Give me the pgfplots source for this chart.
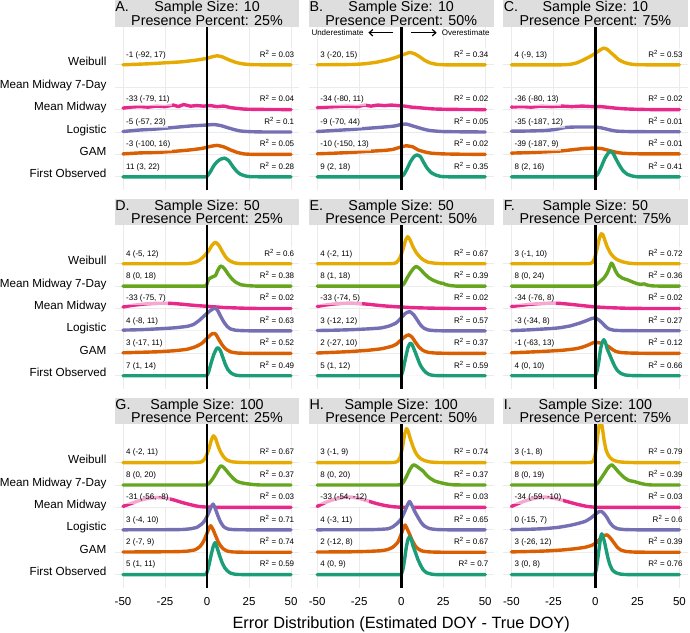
\documentclass[border=0pt]{standalone}
\usepackage{fontspec}
\setmainfont{Liberation Sans}
\usepackage{pgfplots}
\pgfplotsset{compat=1.18}
\usetikzlibrary{arrows.meta}

\definecolor{cFO}{HTML}{1B9E77}
\definecolor{cGAM}{HTML}{D95F02}
\definecolor{cLOG}{HTML}{7570B3}
\definecolor{cMM}{HTML}{E7298A}
\definecolor{cMMs}{HTML}{66A61E}
\definecolor{cWB}{HTML}{E6AB02}
\definecolor{gridc}{HTML}{EBEBEB}
\definecolor{stripc}{HTML}{DEDEDE}

% baselines of the ridges (in pt): FO 0, GAM 22.4, Logistic 44.8, MM 67.2, MM7 89.6, Weibull 112
\pgfplotsset{
  panel/.style={scale only axis, width=184.8pt, height=163.3pt,
    xmin=-55, xmax=55, ymin=-13, ymax=150.3, anchor=north west,
    xtick={-50,-25,0,25,50}, ytick={0,22.4,44.8,67.2,89.6,112},
    xticklabels={}, yticklabels={},
    grid=major, major grid style={draw=gridc, line width=0.9pt},
    axis line style={draw=none}, tick style={draw=none},
    /pgf/number format/assume math mode=true},
  leftcol/.style={
    yticklabels={First Observed,GAM,Logistic,Mean Midway,Mean Midway 7-Day,Weibull},
    yticklabel style={font=\fontsize{11.7}{13}\selectfont, anchor=base east,
      inner sep=0pt, xshift=-8pt, yshift=-1pt}},
  bottomrow/.style={
    xticklabels={-50,-25,0,25,50},
    xticklabel style={font=\fontsize{11.5}{13}\selectfont, anchor=base,
      inner sep=0pt, yshift=-17.5pt}},
  ridge/.style 2 args={draw=#1, fill=white, line width=3.4pt, mark=none,
    smooth, tension=0.3, line join=round, line cap=round,
    y filter/.expression={y+#2}},
}
\tikzset{
  lab/.style={font=\fontsize{8}{9.6}\selectfont, fill=white, fill opacity=0.6,
    text opacity=1, inner xsep=2pt, inner ysep=2.2pt},
  stript/.style={font=\fontsize{14.3}{15}\selectfont, inner sep=0pt},
}
\newcommand{\ann}[3]{%
  \node[lab, anchor=base west] at (axis cs:-49.4,#1) {#2};
  \node[lab, anchor=base east] at (axis cs:53.2,#1) {R\textsuperscript{2} = #3};}
\newcommand{\zeroline}{\draw[black, line width=2.6pt] (axis cs:0,-13) -- (axis cs:0,150.3);}
\newcommand{\strip}[4]{%
  \fill[stripc] (#1.north west) rectangle ([yshift=26.5pt]#1.north east);
  \node[stript, anchor=base west] at ([xshift=0.6pt,yshift=14.8pt]#1.north west) {#2};
  \node[stript, anchor=base] at ([yshift=14.8pt]#1.north) {Sample Size: #3};
  \node[stript, anchor=base] at ([yshift=1.5pt]#1.north) {Presence Percent: #4\%};}

\begin{document}
\begin{tikzpicture}
\useasboundingbox (0,0) rectangle (690pt,-632pt);

% ---------------- A ----------------
\begin{axis}[panel, leftcol, name=A, at={(114.6pt,-26.5pt)}]
\addplot[ridge={cWB}{112}] coordinates {(-50,0)(-35,1)(-25,2)(-15,3)(-5,5)(0,6.5)(3,8)(6,9)(9,8)(13,5)(17,2.5)(21,1)(26,0.2)(32,0)(50,0)};
\addplot[ridge={cMM}{67.2}] coordinates {(-50,1.5)(-45,2.5)(-40,3)(-35,2.5)(-30,3.5)(-25,3)(-20,4.5)(-17,3)(-14,5)(-10,3.5)(-6,4)(-2,3.5)(2,4)(6,3)(10,3.5)(14,2)(18,1.2)(22,0.5)(30,0.2)(50,0)};
\addplot[ridge={cLOG}{44.8}] coordinates {(-50,0.5)(-40,2)(-30,3)(-20,4.5)(-10,6)(0,7)(4,7.5)(8,6.5)(12,4.5)(16,2.5)(20,1)(26,0.3)(35,0)(50,0)};
\addplot[ridge={cGAM}{22.4}] coordinates {(-50,0.5)(-40,1.5)(-30,2)(-20,3)(-10,4.5)(-3,6)(2,8)(6,9)(10,7.5)(14,4.5)(18,2)(22,0.5)(28,0)(36,0)(50,0)};
\addplot[ridge={cFO}{0}] coordinates {(-50,0)(-8,0)(-3,0)(-1,0)(0,0.5)(2,5)(4,11)(6,15)(8,17.5)(10.5,18.7)(13,16)(15.5,10)(18,5)(20,2.5)(23,0.8)(26,0.1)(31,0)(38,0)(50,0)};
\ann{119.7}{-1 (-92, 17)}{0.03}
\ann{74.9}{-33 (-79, 11)}{0.04}
\ann{52.5}{-5 (-57, 23)}{0.1}
\ann{30.1}{-3 (-100, 16)}{0.05}
\ann{7.7}{11 (3, 22)}{0.28}
\zeroline
\end{axis}
\strip{A}{A.}{10}{25}

% ---------------- B ----------------
\begin{axis}[panel, name=B, at={(308.8pt,-26.5pt)}]
\addplot[ridge={cWB}{112}] coordinates {(-50,0)(-30,0.3)(-22,1)(-15,2.5)(-8,5)(-3,7.5)(1,10)(5,12.3)(8,11)(11,8)(14,4.5)(17,2)(21,0.5)(26,0)(33,0)(50,0)};
\addplot[ridge={cMM}{67.2}] coordinates {(-50,2)(-44,2.5)(-38,3)(-32,3.5)(-26,3)(-22,4.5)(-18,3.5)(-14,4.5)(-10,4)(-6,4.5)(-2,4)(2,3.5)(6,2.5)(10,2)(15,1.2)(20,0.6)(30,0.2)(50,0)};
\addplot[ridge={cLOG}{44.8}] coordinates {(-50,0.5)(-40,1.5)(-30,2.5)(-20,3.7)(-10,5)(-4,6)(0,7.5)(3,8)(6,6.5)(9,5)(13,3)(17,1.5)(24,0.5)(35,0.2)(50,0)};
\addplot[ridge={cGAM}{22.4}] coordinates {(-50,0.6)(-40,1.2)(-30,2)(-20,3)(-10,4)(-5,5)(-1,7)(3,8.6)(7,7.5)(10,4.5)(14,2.5)(18,1.2)(25,0.5)(35,0.2)(50,0)};
\addplot[ridge={cFO}{0}] coordinates {(-50,0)(-8,0)(-3,0)(-1,0)(0,0.2)(1.5,2)(3.5,8)(5.5,15)(7.5,20)(9.5,22)(11.5,20)(13.5,14)(15.5,8.5)(18,4)(21,1.5)(24,0.3)(28,0)(36,0)(50,0)};
\ann{119.7}{3 (-20, 15)}{0.34}
\ann{74.9}{-34 (-80, 11)}{0.02}
\ann{52.5}{-9 (-70, 44)}{0.05}
\ann{30.1}{-10 (-150, 13)}{0.02}
\ann{7.7}{9 (2, 18)}{0.35}
\node[font=\fontsize{8}{9.6}\selectfont, inner sep=0pt, anchor=base east] at (axis cs:-22.3,141.8) {Underestimate};
\node[font=\fontsize{8}{9.6}\selectfont, inner sep=0pt, anchor=base west] at (axis cs:24.1,141.8) {Overestimate};
\draw[line width=1.2pt, -{Straight Barb[length=3.5pt,width=6.5pt]}] (axis cs:-4.7,144.1) -- (axis cs:-19.5,144.1);
\draw[line width=1.2pt, -{Straight Barb[length=3.5pt,width=6.5pt]}] (axis cs:5.8,144.1) -- (axis cs:21.1,144.1);
\zeroline
\end{axis}
\strip{B}{B.}{10}{50}

% ---------------- C ----------------
\begin{axis}[panel, name=C, at={(503pt,-26.5pt)}]
\addplot[ridge={cWB}{112}] coordinates {(-50,0)(-28,0)(-20,0)(-15,0.5)(-11,2)(-7,5)(-3,8.5)(0,11.5)(3,15)(5,16.7)(7,15.5)(9,12.5)(11,9.5)(14,5)(17,2.5)(20,1)(24,0.2)(30,0)(50,0)};
\addplot[ridge={cMM}{67.2}] coordinates {(-50,2.5)(-44,3)(-38,2.5)(-32,3.5)(-26,3)(-20,3.5)(-14,3)(-8,3.5)(-2,3)(3,3)(8,2.2)(13,1.3)(18,0.7)(25,0.3)(35,0)(50,0)};
\addplot[ridge={cLOG}{44.8}] coordinates {(-50,0.8)(-40,1)(-30,1.5)(-24,2.5)(-18,4.5)(-12,5)(-6,5)(0,5)(4,4)(8,2.3)(12,1)(18,0.5)(30,0.3)(50,0.3)};
\addplot[ridge={cGAM}{22.4}] coordinates {(-50,1.3)(-40,1.8)(-30,2.5)(-20,3.5)(-12,5)(-6,6)(0,6.3)(4,5.7)(8,4)(12,2.3)(16,1.2)(22,0.7)(32,0.5)(50,0.5)};
\addplot[ridge={cFO}{0}] coordinates {(-50,0)(-8,0)(-3,0)(-1,0)(0,0.2)(1.5,3)(3.5,10)(5.5,18)(7.5,23.5)(8.7,25.3)(10.5,23.5)(12.5,17)(14.5,11)(16.5,6)(19,2.5)(22,0.8)(25,0)(31,0)(50,0)};
\ann{119.7}{4 (-9, 13)}{0.53}
\ann{74.9}{-36 (-80, 13)}{0.02}
\ann{52.5}{-35 (-187, 12)}{0.01}
\ann{30.1}{-39 (-187, 9)}{0.01}
\ann{7.7}{8 (2, 16)}{0.41}
\zeroline
\end{axis}
\strip{C}{C.}{10}{75}

% ---------------- D ----------------
\begin{axis}[panel, leftcol, name=D, at={(114.6pt,-225.4pt)}]
\addplot[ridge={cWB}{112}] coordinates {(-50,0)(-20,0)(-12,0)(-8,1)(-5,3)(-2,7)(1,13)(3,18.5)(5,21.5)(7,18.5)(9,12.5)(11,7)(13,3.5)(16,1)(20,0)(27,0)(50,0)};
\addplot[ridge={cMMs}{89.6}] coordinates {(-50,0)(-8,0)(-3,0)(-1,0)(0,2)(1,7)(3,9)(5,10.5)(6.5,16)(8,20)(9.5,19)(11,16)(13,11)(15,7)(17,4)(20,1.5)(24,0.5)(30,0)(50,0)};
\addplot[ridge={cMM}{67.2}] coordinates {(-50,1.5)(-45,3)(-40,4)(-35,4.8)(-30,5.2)(-25,5.3)(-20,5)(-15,4.3)(-10,3.5)(-5,2.8)(0,2.2)(5,1.6)(10,1)(15,0.7)(22,0.3)(32,0)(50,0)};
\addplot[ridge={cLOG}{44.8}] coordinates {(-50,0.8)(-40,1.2)(-30,2)(-20,3)(-12,4.5)(-8,6.5)(-5,10)(-2,14.5)(1,19)(4,22.5)(6,21.5)(8,15)(10,9)(12,4.5)(14,2)(17,0.7)(22,0.2)(30,0)(50,0)};
\addplot[ridge={cGAM}{22.4}] coordinates {(-50,0.5)(-40,1)(-30,1.5)(-20,2.5)(-12,4)(-7,6.5)(-3,10)(0,15)(3,19.5)(5,19.5)(7,14)(9,8.5)(11,4.5)(14,1.5)(18,0.3)(25,0)(50,0)};
\addplot[ridge={cFO}{0}] coordinates {(-50,0)(-8,0)(-3,0)(-1,0)(0,0.3)(1,4)(2.5,13)(4,21)(5.5,26.5)(6.5,28)(8,25)(9.5,18)(11,11)(12.5,6)(14.5,2.5)(17,0.6)(20,0)(26,0)(50,0)};
\ann{119.7}{4 (-5, 12)}{0.6}
\ann{97.3}{8 (0, 18)}{0.38}
\ann{74.9}{-33 (-75, 7)}{0.02}
\ann{52.5}{4 (-8, 11)}{0.63}
\ann{30.1}{3 (-17, 11)}{0.52}
\ann{7.7}{7 (1, 14)}{0.49}
\zeroline
\end{axis}
\strip{D}{D.}{50}{25}

% ---------------- E ----------------
\begin{axis}[panel, name=E, at={(308.8pt,-225.4pt)}]
\addplot[ridge={cWB}{112}] coordinates {(-50,0)(-16,0)(-9,0)(-5,0.2)(-3,1)(-1,5)(1,14)(2.5,23)(3.8,27)(5.2,24)(7,17)(9,11)(11,7)(13,4)(16,1.5)(20,0.5)(26,0)(34,0)(50,0)};
\addplot[ridge={cMMs}{89.6}] coordinates {(-50,0)(-8,0)(-3,0)(-1,0)(0,0.3)(1.5,2)(3.5,8)(5.5,13.5)(7.5,18)(9,19.6)(11,17.5)(13.5,13)(16,9)(18.5,6.3)(21,4.5)(23.5,3)(25,2.8)(26,1.8)(29,0.6)(33,0)(40,0)(50,0)};
\addplot[ridge={cMM}{67.2}] coordinates {(-50,2)(-45,3.5)(-40,4.5)(-35,5.2)(-30,5.4)(-25,5)(-20,4.3)(-15,3.4)(-10,2.6)(-5,2)(0,1.5)(5,1)(12,0.6)(20,0.3)(32,0)(50,0)};
\addplot[ridge={cLOG}{44.8}] coordinates {(-50,0.4)(-40,0.7)(-30,1.2)(-20,2)(-12,3)(-7,5)(-3,8)(0,13)(2.5,17.5)(5,19.4)(7.5,16)(9.5,11)(11.5,6)(13.5,2.8)(16,1)(20,0.3)(28,0)(50,0)};
\addplot[ridge={cGAM}{22.4}] coordinates {(-50,0.3)(-40,1)(-30,1.8)(-20,3)(-12,4.5)(-6,6.8)(-3,9)(0,13.5)(2.5,17)(4.5,18.5)(6.5,16)(8.5,11)(10.5,6.5)(13,2.8)(16,1)(20,0.3)(28,0)(50,0)};
\addplot[ridge={cFO}{0}] coordinates {(-50,0)(-8,0)(-3,0)(-1,0)(0,0.3)(1,5)(2.5,17)(4,28)(5.3,32.5)(6.5,31)(8,25)(9.5,18.5)(11,12)(12.5,7.5)(14.5,3.5)(17,1)(20,0.2)(26,0)(50,0)};
\ann{119.7}{4 (-2, 11)}{0.67}
\ann{97.3}{8 (1, 18)}{0.39}
\ann{74.9}{-33 (-74, 5)}{0.02}
\ann{52.5}{3 (-12, 12)}{0.57}
\ann{30.1}{2 (-27, 10)}{0.37}
\ann{7.7}{5 (1, 12)}{0.59}
\zeroline
\end{axis}
\strip{E}{E.}{50}{50}

% ---------------- F ----------------
\begin{axis}[panel, name=F, at={(503pt,-225.4pt)}]
\addplot[ridge={cWB}{112}] coordinates {(-50,0)(-16,0)(-8,0)(-4,0)(-2,1)(-0.5,5)(1,15)(2.3,25)(3.5,30)(4.5,29)(5.5,24)(7,17)(9,10.5)(11,6.5)(13,4)(16,2)(20,0.5)(25,0)(33,0)(50,0)};
\addplot[ridge={cMMs}{89.6}] coordinates {(-50,0)(-8,0)(-3,0)(-1,0.2)(1,2)(3,5)(5,8)(7,13)(8.5,19)(9.5,23)(10.5,21)(12,15)(13.5,11)(16,8)(19,6.3)(22,4.2)(25,2.3)(27,1.8)(29,2.2)(31,1)(34,0.2)(40,0)(50,0)};
\addplot[ridge={cMM}{67.2}] coordinates {(-50,2)(-45,3)(-40,4)(-35,4.7)(-30,5.2)(-25,5.4)(-20,5)(-15,4.2)(-10,3.3)(-5,2.4)(0,1.6)(6,1)(12,0.6)(20,0.2)(32,0)(50,0)};
\addplot[ridge={cLOG}{44.8}] coordinates {(-50,0.3)(-40,1)(-30,2)(-22,3)(-15,5)(-9,8)(-5,10.5)(-2,12.5)(0,12.8)(2,11)(4,8)(6,4.5)(8,2)(11,0.7)(16,0.3)(26,0.2)(50,0.2)};
\addplot[ridge={cGAM}{22.4}] coordinates {(-50,0.5)(-40,1.2)(-30,2)(-20,3)(-12,4.5)(-8,6)(-4,8.5)(-1,10.8)(2,10.5)(5,9.5)(8,6.5)(10,4)(12,2)(15,0.8)(20,0.3)(30,0)(50,0)};
\addplot[ridge={cFO}{0}] coordinates {(-50,0)(-8,0)(-3,0)(-1,0)(0,0.3)(1,5)(2,14)(3,26)(4,33)(5,36)(6,33)(7,27)(8.5,21)(10,15)(11.5,9.5)(13,5.5)(15,2.5)(17.5,0.8)(21,0.2)(28,0)(50,0)};
\ann{119.7}{3 (-1, 10)}{0.72}
\ann{97.3}{8 (0, 24)}{0.36}
\ann{74.9}{-34 (-76, 8)}{0.02}
\ann{52.5}{-3 (-34, 8)}{0.27}
\ann{30.1}{-1 (-63, 13)}{0.12}
\ann{7.7}{4 (0, 10)}{0.66}
\zeroline
\end{axis}
\strip{F}{F.}{50}{75}

% ---------------- G ----------------
\begin{axis}[panel, leftcol, bottomrow, name=G, at={(114.6pt,-424.3pt)}]
\addplot[ridge={cWB}{112}] coordinates {(-50,0)(-16,0)(-9,0)(-5,0.3)(-3,1)(-1,4.5)(1,13)(2.5,22)(3.8,26.8)(5,24.5)(6.5,17)(8,11)(10,5.5)(12,2.5)(15,0.8)(20,0.2)(28,0)(50,0)};
\addplot[ridge={cMMs}{89.6}] coordinates {(-50,0)(-8,0)(-3,0)(-1,0)(0,0.5)(1.5,2)(3.5,6.5)(5.5,12)(7,16.5)(8.3,19.2)(10,17.5)(12,13.5)(14,9.5)(16,6)(18,3.5)(21,2)(24,1.2)(28,0.4)(32,0)(40,0)(50,0)};
\addplot[ridge={cMM}{67.2}] coordinates {(-50,1)(-45,4)(-40,7)(-35,9)(-30,9.9)(-25,9.3)(-20,7.6)(-15,5)(-10,2.8)(-5,1)(0,0.3)(5,0.1)(12,0)(25,0)(50,0)};
\addplot[ridge={cLOG}{44.8}] coordinates {(-50,0)(-25,0.1)(-15,0.3)(-10,1)(-6,2.5)(-3,6)(-1,10)(1,17)(2.5,23)(3.6,25.7)(5,21)(6.5,14)(8,8)(10,3)(12.5,0.8)(16,0.2)(24,0)(50,0)};
\addplot[ridge={cGAM}{22.4}] coordinates {(-50,0.2)(-20,0.5)(-12,1)(-7,2.5)(-4,6)(-2,11)(0,19)(1.2,24)(2.2,26.5)(3.5,23)(5,17)(6.5,11)(8,6.5)(10,3)(12,1.2)(15,0.3)(22,0)(50,0)};
\addplot[ridge={cFO}{0}] coordinates {(-50,0)(-8,0)(-3,0)(-1.5,0)(-0.5,0.2)(0.5,5)(1.5,12)(2.5,20)(3.7,28)(4.8,32)(6,27)(7.5,19)(9,12)(10.5,7)(12,4)(14,1.5)(17,0.3)(23,0)(50,0)};
\ann{119.7}{4 (-2, 11)}{0.67}
\ann{97.3}{8 (0, 20)}{0.37}
\ann{74.9}{-31 (-56, -8)}{0.03}
\ann{52.5}{3 (-4, 10)}{0.71}
\ann{30.1}{2 (-7, 9)}{0.74}
\ann{7.7}{5 (1, 11)}{0.59}
\zeroline
\end{axis}
\strip{G}{G.}{100}{25}

% ---------------- H ----------------
\begin{axis}[panel, bottomrow, name=H, at={(308.8pt,-424.3pt)}]
\addplot[ridge={cWB}{112}] coordinates {(-50,0)(-16,0)(-8,0)(-4,0.2)(-2,1.5)(-0.5,6)(0.8,16)(2,28)(3.2,34)(4.2,31)(5.2,25)(6.5,18.5)(8,12)(9.5,7.5)(11.5,4)(14,2)(17,0.7)(21,0.2)(28,0)(50,0)};
\addplot[ridge={cMMs}{89.6}] coordinates {(-50,0)(-8,0)(-3,0)(-1,0.2)(1,2)(3,8)(5,15)(6.5,19)(7.5,20.2)(9,19)(11,16.5)(13,14)(15,10)(17,7)(20,4)(23,2.5)(27,1)(31,0.2)(38,0)(50,0)};
\addplot[ridge={cMM}{67.2}] coordinates {(-50,1)(-45,5)(-40,8)(-35,9.8)(-30,10.3)(-25,9)(-20,6.5)(-15,4)(-10,2)(-5,0.7)(0,0.2)(6,0)(15,0)(50,0)};
\addplot[ridge={cLOG}{44.8}] coordinates {(-50,0)(-25,0.1)(-15,0.3)(-8,1)(-5,3)(-2,7)(0,11)(2,18)(3.5,24)(5,28.3)(6.5,24)(8,18.5)(10,12.5)(12,7)(14,3.5)(17,1.2)(21,0.3)(28,0)(50,0)};
\addplot[ridge={cGAM}{22.4}] coordinates {(-50,0.2)(-30,0.4)(-20,0.8)(-12,1.5)(-8,2.7)(-5,5)(-2,10)(0,18)(1.3,24)(2.3,27.2)(3.5,23.5)(5,18)(6.5,12)(8.5,6)(10.5,2.8)(13,1)(17,0.3)(24,0)(50,0)};
\addplot[ridge={cFO}{0}] coordinates {(-50,0)(-8,0)(-3,0)(-1,0)(0,0.3)(1,5)(2,15)(3,27)(4,35)(5,38)(6,35)(7,29)(8.5,22)(10,15)(11.5,9.5)(13,5)(15,2)(18,0.5)(21,0)(28,0)(50,0)};
\ann{119.7}{3 (-1, 9)}{0.74}
\ann{97.3}{8 (0, 20)}{0.37}
\ann{74.9}{-33 (-54, -12)}{0.03}
\ann{52.5}{4 (-3, 11)}{0.65}
\ann{30.1}{2 (-12, 8)}{0.67}
\ann{7.7}{4 (0, 9)}{0.7}
\zeroline
\end{axis}
\strip{H}{H.}{100}{50}

% ---------------- I ----------------
\begin{axis}[panel, bottomrow, name=I, at={(503pt,-424.3pt)}]
\addplot[ridge={cWB}{112}] coordinates {(-50,0)(-14,0)(-7,0)(-3,0.2)(-1.5,1)(-0.5,5)(0.5,14)(1.2,25)(2,35)(2.7,41)(3.5,40)(4.3,33)(5.2,22)(6.3,13)(7.5,8)(9,4.5)(11,2.2)(14,0.8)(18,0.3)(25,0)(50,0)};
\addplot[ridge={cMMs}{89.6}] coordinates {(-50,0)(-8,0)(-3,0)(-1,0)(0,0.3)(1.5,2)(3.5,7)(5.5,12)(7,16)(8.5,19)(9.8,20.2)(11.5,17.5)(13.5,13.5)(15.5,10)(17.5,7)(20,4.5)(23,3.5)(26,2)(30,0.5)(34,0)(41,0)(50,0)};
\addplot[ridge={cMM}{67.2}] coordinates {(-50,1)(-45,4.5)(-40,7.5)(-35,9.5)(-30,10.3)(-25,9.3)(-20,7.3)(-15,5)(-10,2.8)(-5,1)(0,0.2)(6,0)(15,0)(50,0)};
\addplot[ridge={cLOG}{44.8}] coordinates {(-50,0.2)(-40,0.5)(-30,1.2)(-22,2.5)(-15,4.5)(-10,6.5)(-6,8.5)(-3,11.5)(0,15.5)(2,18)(3.7,18.3)(5.5,15.5)(7,12)(8.5,7.5)(10.5,3.5)(13,1.2)(17,0.3)(25,0)(50,0)};
\addplot[ridge={cGAM}{22.4}] coordinates {(-50,0.3)(-40,0.7)(-30,1.2)(-20,2.2)(-12,3.5)(-6,5)(-2,7)(1,10)(3,14)(5,16.5)(7,17.3)(9,14)(11,9.5)(13,5)(15,2.3)(18,0.8)(22,0.2)(30,0)(50,0)};
\addplot[ridge={cFO}{0}] coordinates {(-50,0)(-8,0)(-3,0)(-1.5,0)(-0.5,0.2)(0.5,5)(1.5,17)(2.5,30)(3.2,38)(3.8,40.8)(4.5,38)(5.5,32)(6.5,24)(7.5,16.5)(8.5,10.5)(10,5)(12,2)(15,0.5)(20,0)(50,0)};
\ann{119.7}{3 (-1, 8)}{0.79}
\ann{97.3}{8 (0, 19)}{0.39}
\ann{74.9}{-34 (-59, -10)}{0.03}
\ann{52.5}{0 (-15, 7)}{0.6}
\ann{30.1}{3 (-26, 12)}{0.39}
\ann{7.7}{3 (0, 8)}{0.76}
\zeroline
\end{axis}
\strip{I}{I.}{100}{75}

\node[font=\fontsize{16.3}{18}\selectfont, inner sep=0pt, anchor=base] at (401.2pt,-628.3pt) {Error Distribution (Estimated DOY - True DOY)};
\end{tikzpicture}
\end{document}
